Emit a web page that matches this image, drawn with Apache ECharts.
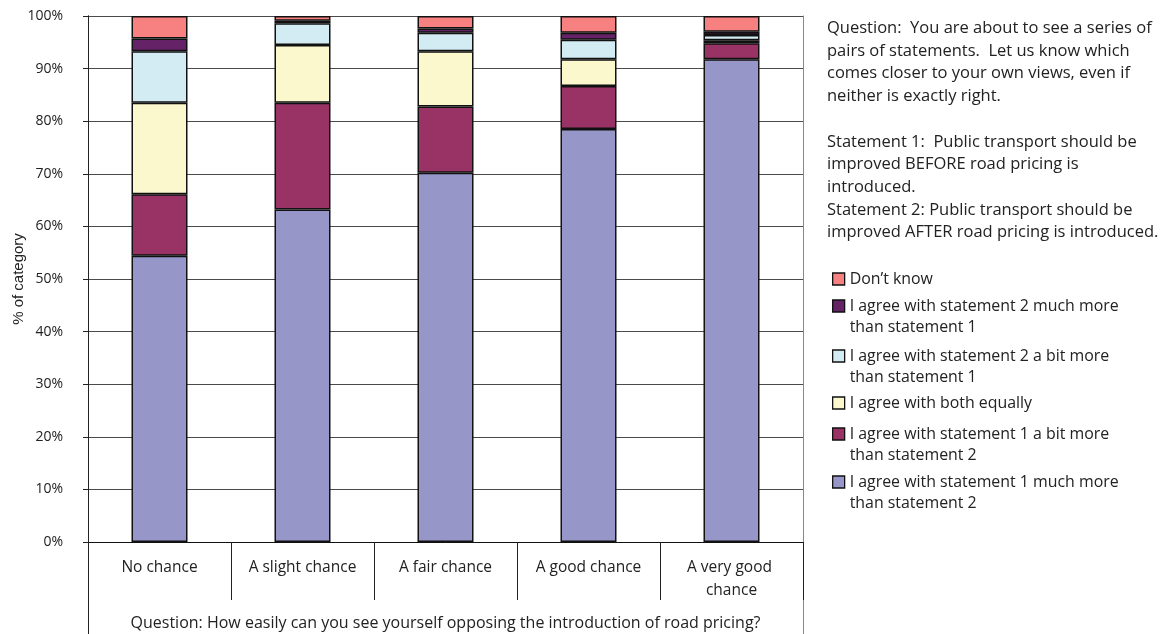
<!DOCTYPE html>
<html>
<head>
<meta charset="utf-8">
<script src="https://cdn.jsdelivr.net/npm/echarts@6/dist/echarts.min.js"></script>
<style>
  html, body { margin: 0; padding: 0; background: #fff; }
  #chart { width: 1166px; height: 634px; }
</style>
</head>
<body>
<div id="chart"></div>
<script>
// Answer categories (x axis)
const categories = ['No chance', 'A slight chance', 'A fair chance', 'A good chance', 'A very good chance'];

// Percentage of each category giving each answer (stacked bottom to top)
const s1Much   = [54.4, 63.2, 70.2, 78.5, 91.8];
const s1Bit    = [11.7, 20.3, 12.6, 8.2, 3.0];
const bothEq   = [17.4, 11.0, 10.5, 5.1, 0.6];
const s2Bit    = [9.8, 4.1, 3.5, 3.7, 1.0];
const s2Much   = [2.4, 0.5, 0.8, 1.3, 0.6];
const dontKnow = [4.3, 0.9, 2.4, 3.2, 3.0];

const seriesNames = [
  'I agree with statement 1 much more\nthan statement 2',
  'I agree with statement 1 a bit more\nthan statement 2',
  'I agree with both equally',
  'I agree with statement 2 a bit more\nthan statement 1',
  'I agree with statement 2 much more\nthan statement 1',
  'Don\u2019t know'
];
const seriesValues = [s1Much, s1Bit, bothEq, s2Bit, s2Much, dontKnow];
const seriesColors = ['#9696C8', '#993366', '#FCF8CE', '#D3ECF3', '#662266', '#F78080'];

const yTicks = { min: 0, max: 100, interval: 10 };

const noteText = [
  'Question:  You are about to see a series of',
  'pairs of statements.  Let us know which',
  'comes closer to your own views, even if',
  'neither is exactly right.',
  '',
  'Statement 1:  Public transport should be',
  'improved BEFORE road pricing is',
  'introduced.',
  'Statement 2: Public transport should be',
  'improved AFTER road pricing is introduced.'
].join('\n');

const FONT = 'Open Sans';
const LH = 21;
// legend entries listed top to bottom, with the centre of each entry's first line
const legendOrder = [5, 4, 3, 2, 1, 0];
const legendRows = [279, 306, 356, 403, 434, 482];

// one legend block per entry; two-line entries get a leading blank line so the
// swatch sits beside the first line of text
const legends = legendOrder.map((si, k) => {
  const twoLine = seriesNames[si].indexOf('\n') >= 0;
  return {
    data: [seriesNames[si]],
    orient: 'vertical',
    left: 832,
    top: legendRows[k] - (twoLine ? 1.5 * LH : LH / 2),
    padding: 0,
    itemWidth: 12,
    itemHeight: 12,
    itemGap: 0,
    icon: 'rect',
    selectedMode: false,
    formatter: (name) => (twoLine ? '\n' + name : name),
    itemStyle: { borderColor: '#111', borderWidth: 1.3 },
    textStyle: { fontFamily: FONT, fontSize: 15.9, color: '#222', lineHeight: LH }
  };
});

const chart = echarts.init(document.getElementById('chart'), null, { renderer: 'canvas' });

chart.setOption({
  animation: false,
  backgroundColor: '#fff',
  textStyle: { fontFamily: FONT },
  title: {
    text: noteText,
    left: 827,
    top: 17,
    padding: 0,
    textStyle: { fontFamily: FONT, fontSize: 16.5, fontWeight: 'normal', color: '#222', lineHeight: 22.7 }
  },
  legend: legends,
  grid: [
    { left: 88, right: 363, top: 16, bottom: 92, containLabel: false, outerBoundsMode: 'none' },
    { left: 88, right: 363, top: 16, bottom: 0, containLabel: false, outerBoundsMode: 'none' }
  ],
  xAxis: [
    {
      type: 'category',
      gridIndex: 0,
      data: categories,
      boundaryGap: true,
      axisLine: { show: true, lineStyle: { color: '#111', width: 1 } },
      axisTick: { show: true, interval: 0, length: 58, inside: false, lineStyle: { color: '#222', width: 1 } },
      axisLabel: {
        interval: 0, margin: 14, fontFamily: FONT, fontSize: 15.5, color: '#222',
        lineHeight: 23, width: 124, overflow: 'break', align: 'center'
      },
      name: 'Question: How easily can you see yourself opposing the introduction of road pricing?',
      nameLocation: 'middle',
      nameGap: 73,
      nameMoveOverlap: false,
      nameTextStyle: { fontFamily: FONT, fontSize: 16, color: '#222' }
    },
    { type: 'category', gridIndex: 1, data: categories, show: false }
  ],
  yAxis: [
    {
      type: 'value',
      gridIndex: 0,
      min: yTicks.min, max: yTicks.max, interval: yTicks.interval,
      axisLine: { show: true, lineStyle: { color: '#111', width: 1 } },
      axisTick: { show: true, length: 5, inside: false, lineStyle: { color: '#222' } },
      axisLabel: { formatter: '{value}%', margin: 25, fontFamily: FONT, fontSize: 14, color: '#222' },
      splitLine: { show: true, lineStyle: { color: '#4a4a4a', width: 1 } },
      name: '% of category',
      nameLocation: 'middle',
      nameGap: 62,
      nameMoveOverlap: false,
      nameTextStyle: { fontFamily: 'Liberation Sans', fontSize: 15, color: '#222' }
    },
    {
      type: 'value', gridIndex: 1, position: 'left', min: 0, max: 1,
      axisLine: { show: true, lineStyle: { color: '#222', width: 1 } },
      axisTick: { show: false }, axisLabel: { show: false }, splitLine: { show: false }
    },
    {
      type: 'value', gridIndex: 1, position: 'right', min: 0, max: 1,
      axisLine: { show: true, lineStyle: { color: '#888', width: 1 } },
      axisTick: { show: false }, axisLabel: { show: false }, splitLine: { show: false }
    }
  ],
  series: seriesNames.map((name, i) => ({
    name: name,
    type: 'bar',
    stack: 'total',
    xAxisIndex: 0,
    yAxisIndex: 0,
    barWidth: 56,
    data: seriesValues[i],
    itemStyle: { color: seriesColors[i], borderColor: '#111', borderWidth: 1.5 }
  }))
});
</script>
</body>
</html>
